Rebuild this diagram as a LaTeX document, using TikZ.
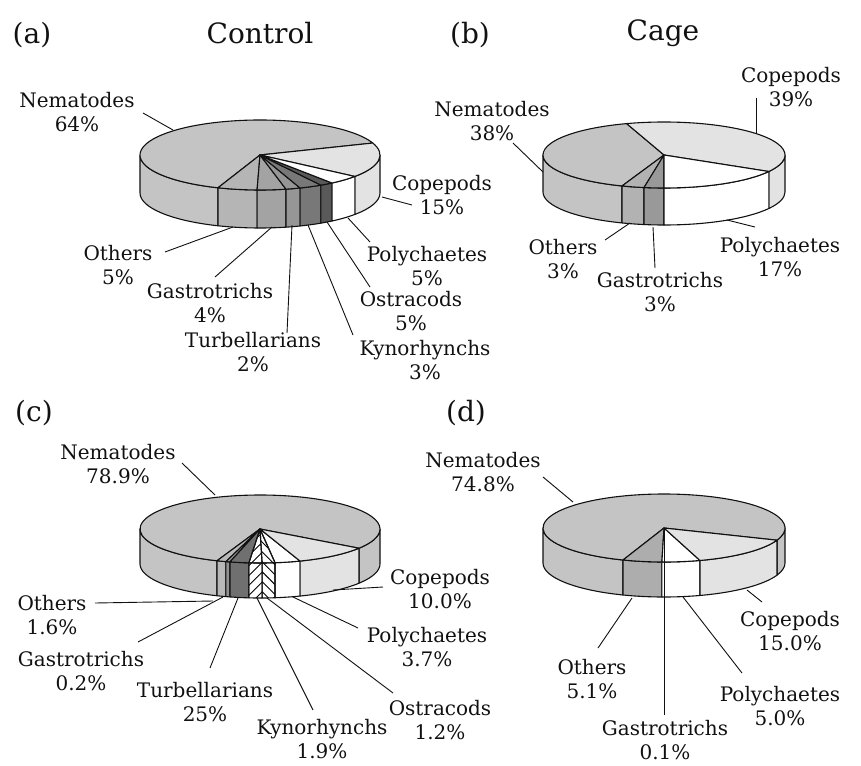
\documentclass[tikz,border=0pt]{standalone}
\usepackage{fontspec}
\setmainfont{DejaVu Serif}
\usetikzlibrary{patterns.meta}

\definecolor{txt}{HTML}{111111}
\definecolor{nem}{gray}{0.77}
\definecolor{cope}{gray}{0.89}
\definecolor{othA}{gray}{0.71}
\definecolor{gasA}{gray}{0.64}
\definecolor{turA}{gray}{0.59}
\definecolor{kynA}{gray}{0.47}
\definecolor{ostA}{gray}{0.35}
\definecolor{othB}{gray}{0.70}
\definecolor{gasB}{gray}{0.60}
\definecolor{othC}{gray}{0.72}
\definecolor{gasC}{gray}{0.57}
\definecolor{turC}{gray}{0.44}
\definecolor{othD}{gray}{0.68}

\tikzset{
  pie/.style={draw=txt, line width=1.1pt, line join=round},
  lbl/.style={align=center, text=txt, inner sep=0pt, font=\fontsize{20}{24}\selectfont},
  ttl/.style={text=txt, inner sep=0pt, font=\fontsize{28}{32}\selectfont},
  lead/.style={draw=txt, line width=0.9pt}
}

% slice of the top face, and the front wall below it
\newcommand\pietop[3]{\filldraw[pie,#3] (0,0) -- (#1:\rx pt and \ry pt)
  arc[start angle=#1, end angle=#2, x radius=\rx pt, y radius=\ry pt] -- cycle;}
\newcommand\pieside[3]{\filldraw[pie,#3] (#1:\rx pt and \ry pt)
  arc[start angle=#1, end angle=#2, x radius=\rx pt, y radius=\ry pt] -- ++(0,-\hh pt)
  arc[start angle=#2, end angle=#1, x radius=\rx pt, y radius=\ry pt] -- cycle;}

\begin{document}
\begin{tikzpicture}[x=1pt, y=1pt]
\useasboundingbox (0,0) rectangle (861,-765);

% titles
\node[ttl] (ta) at (32,-35) {(a)};
\node[ttl] (tcontrol) at (260,-33) {Control};
\node[ttl] (tb) at (470,-35) {(b)};
\node[ttl] (tcage) at (663,-33) {Cage};
\node[ttl] (tc) at (34,-413) {(c)};
\node[ttl] (td) at (466,-413) {(d)};

% (a) control
\begin{scope}[shift={(260,-155)}]
  \def\rx{120}\def\ry{35}\def\hh{38}
  \pieside{180}{249.5}{fill=nem}
  \pieside{322.2}{360}{fill=cope}
  \pietop{20}{249.5}{fill=nem}
  \pietop{322.2}{380}{fill=cope}
  \foreach \s/\e/\c in {249.5/268.6/othA, 268.6/282.5/gasA, 282.5/289.5/turA,
                         289.5/300.5/kynA, 300.5/306.9/ostA, 306.9/322.2/white}
  {
    \pieside{\s}{\e}{fill=\c}
    \pietop{\s}{\e}{fill=\c}
  }
\end{scope}

% (b) cage
\begin{scope}[shift={(664,-155)}]
  \def\rx{121}\def\ry{33}\def\hh{37}
  \pieside{180}{249.7}{fill=nem}
  \pieside{330}{360}{fill=cope}
  \pietop{108}{249.7}{fill=nem}
  \pietop{330}{468}{fill=cope}
  \foreach \s/\e/\c in {249.7/260.5/othB, 260.5/270/gasB, 270/330/white}
  {
    \pieside{\s}{\e}{fill=\c}
    \pietop{\s}{\e}{fill=\c}
  }
\end{scope}

% (c) control
\begin{scope}[shift={(260,-529)}]
  \def\rx{120}\def\ry{34}\def\hh{35}
  \pieside{180}{249}{fill=nem}
  \pieside{325.6}{360}{fill=nem}
  \pietop{325.6}{609}{fill=nem}
  \foreach \s/\e/\c in {249/253.5/othC, 253.5/255.5/gasC, 255.5/264.7/turC,
                         277.2/289.5/white, 289.5/325.6/cope}
  {
    \pieside{\s}{\e}{fill=\c}
    \pietop{\s}{\e}{fill=\c}
  }
  \pieside{264.7}{271}{pattern={Lines[angle=45, distance=7pt, line width=0.9pt]}}
  \pietop{264.7}{271}{pattern={Lines[angle=45, distance=7pt, line width=0.9pt]}}
  \pieside{271}{277.2}{pattern={Lines[angle=-45, distance=7pt, line width=0.9pt]}}
  \pietop{271}{277.2}{pattern={Lines[angle=-45, distance=7pt, line width=0.9pt]}}
\end{scope}

% (d) cage
\begin{scope}[shift={(664,-528)}]
  \def\rx{121}\def\ry{34}\def\hh{35}
  \pieside{180}{250.2}{fill=nem}
  \pieside{339}{360}{fill=nem}
  \pietop{339}{610.2}{fill=nem}
  \foreach \s/\e/\c in {250.2/269/othD, 269/287.3/white, 287.3/339/cope}
  {
    \pieside{\s}{\e}{fill=\c}
    \pietop{\s}{\e}{fill=\c}
  }
  \coordinate (apexD) at (0,0);
\end{scope}

% labels (a)
\node[lbl] (NemA) at (77,-112) {Nematodes\\64\%};
\node[lbl] (CopA) at (442,-195) {Copepods\\15\%};
\node[lbl] (PolA) at (427,-266) {Polychaetes\\5\%};
\node[lbl] (OstA) at (411,-311) {Ostracods\\5\%};
\node[lbl] (KynA) at (425,-360) {Kynorhynchs\\3\%};
\node[lbl] (TurA) at (253,-352) {Turbellarians\\2\%};
\node[lbl] (GasA) at (210,-303) {Gastrotrichs\\4\%};
\node[lbl] (OthA) at (118,-265) {Others\\5\%};

% labels (b)
\node[lbl] (NemB) at (492,-121) {Nematodes\\38\%};
\node[lbl] (CopB) at (791,-87) {Copepods\\39\%};
\node[lbl] (PolB) at (780,-257) {Polychaetes\\17\%};
\node[lbl] (OthB) at (563,-259) {Others\\3\%};
\node[lbl] (GasB) at (660,-292) {Gastrotrichs\\3\%};

% labels (c)
\node[lbl] (NemC) at (118,-464) {Nematodes\\78.9\%};
\node[lbl] (CopC) at (440,-589) {Copepods\\10.0\%};
\node[lbl] (PolC) at (427,-647) {Polychaetes\\3.7\%};
\node[lbl] (OstC) at (440,-720) {Ostracods\\1.2\%};
\node[lbl] (KynC) at (322,-739) {Kynorhynchs\\1.9\%};
\node[lbl] (TurC) at (205,-702) {Turbellarians\\25\%};
\node[lbl] (GasC) at (81,-671) {Gastrotrichs\\0.2\%};
\node[lbl] (OthC) at (52,-615) {Others\\1.6\%};

% labels (d)
\node[lbl] (NemD) at (483,-472) {Nematodes\\74.8\%};
\node[lbl] (CopD) at (790,-631) {Copepods\\15.0\%};
\node[lbl] (PolD) at (780,-706) {Polychaetes\\5.0\%};
\node[lbl] (OthD) at (592,-679) {Others\\5.1\%};
\node[lbl] (GasD) at (665,-740) {Gastrotrichs\\0.1\%};

% leader ends: l = label side, p = pie side
\foreach \n/\lx/\ly/\px/\py in {
    NemA/143/113/173/130, CopA/412/205/382/197, PolA/370/242/348/218,
    OstA/370/287/327/222, KynA/353/335/308/225, TurA/287/333/292/225,
    GasA/215/277/272/227, OthA/165/252/233/227,
    NemB/513/143/543/172, CopB/756/98/756/133, PolB/755/227/727/220,
    OthB/605/240/630/223, GasB/655/268/653/227,
    NemC/182/463/215/495, CopC/383/587/333/590, PolC/358/628/293/597,
    OstC/393/693/267/598, KynC/313/710/257/598, TurC/210/668/238/598,
    GasC/138/642/223/597, OthC/95/603/213/601,
    NemD/543/477/573/502, CopD/762/602/747/590, PolD/742/673/683/597,
    OthD/598/648/632/598}
{
  \coordinate (l\n) at (\lx,-\ly);
  \coordinate (p\n) at (\px,-\py);
  \draw[lead] (l\n) -- (p\n);
}
\coordinate (lGasD) at (664,-715);
\draw[lead] (lGasD) -- (apexD);

\end{tikzpicture}
\end{document}
